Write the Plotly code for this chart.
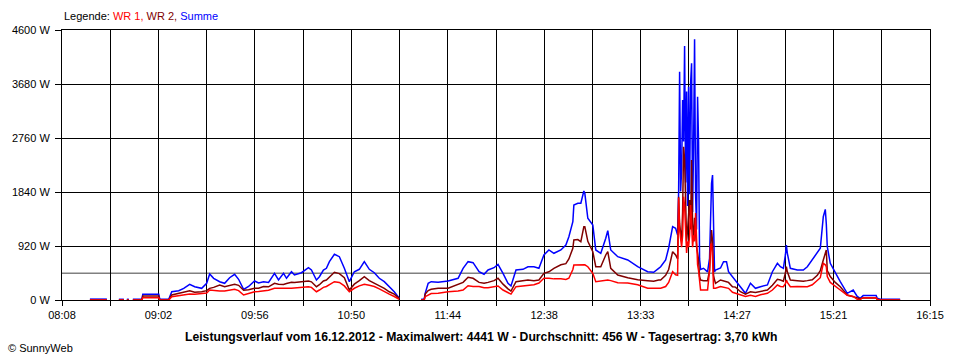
import plotly.graph_objects as go
import numpy as np

# ---------------- data ----------------
times = [
    "08:23:40", "08:33:11", "08:33:45", "08:39:55", "08:42:43", "08:43:15", "08:44:23", "08:45:30", "08:46:10",
    "08:47:45", "08:52:47", "08:53:20", "09:02:18", "09:02:52", "09:07:54", "09:09:35", "09:13:30", "09:16:18",
    "09:19:39", "09:22:27", "09:26:22", "09:29:10", "09:30:51", "09:33:05", "09:36:27", "09:39:15", "09:42:03",
    "09:44:51", "09:47:05", "09:49:53", "09:52:41", "09:56:02", "09:58:17", "10:01:05", "10:03:53", "10:07:14",
    "10:09:29", "10:12:17", "10:13:58", "10:16:45", "10:18:26", "10:22:21", "10:26:16", "10:27:57", "10:30:45",
    "10:32:26", "10:34:40", "10:36:21", "10:38:02", "10:40:50", "10:43:37", "10:46:25", "10:49:13", "10:52:01",
    "10:54:49", "10:57:37", "11:00:25", "11:03:13", "11:06:01", "11:08:49", "11:11:37", "11:14:25", "11:17:13",
    "11:17:47", "11:29:32", "11:31:13", "11:31:46", "11:33:27", "11:35:08", "11:39:02", "11:44:38", "11:50:14",
    "11:53:02", "11:55:50", "11:58:38", "12:02:00", "12:04:48", "12:07:02", "12:10:23", "12:12:38", "12:15:26",
    "12:18:14", "12:19:55", "12:22:43", "12:26:38", "12:29:26", "12:32:47", "12:35:35", "12:38:23", "12:41:11",
    "12:43:59", "12:47:54", "12:50:42", "12:52:23", "12:54:37", "12:55:11", "12:57:25", "12:59:06", "13:00:47",
    "13:01:20", "13:03:01", "13:05:49", "13:07:29", "13:10:17", "13:13:05", "13:14:13", "13:15:53", "13:19:49",
    "13:25:25", "13:31:00", "13:36:36", "13:39:58", "13:42:46", "13:43:53", "13:46:41", "13:48:22", "13:50:36",
    "13:52:17", "13:53:24", "13:53:58", "13:54:31", "13:55:05", "13:55:38", "13:56:12", "13:56:45", "13:57:19",
    "13:57:53", "13:58:26", "13:59:00", "13:59:33", "14:00:07", "14:00:41", "14:01:14", "14:01:48", "14:02:21",
    "14:02:55", "14:03:29", "14:04:02", "14:04:36", "14:05:09", "14:05:43", "14:06:17", "14:07:57", "14:10:12",
    "14:11:19", "14:11:53", "14:12:26", "14:13:00", "14:13:34", "14:14:07", "14:14:41", "14:17:28", "14:19:09",
    "14:20:50", "14:21:57", "14:24:11", "14:25:52", "14:28:40", "14:31:28", "14:34:16", "14:37:04", "14:39:52",
    "14:43:47", "14:46:35", "14:49:23", "14:51:04", "14:52:44", "14:53:52", "14:54:25", "14:54:58", "14:56:39",
    "15:00:34", "15:03:56", "15:06:10", "15:08:58", "15:11:46", "15:13:27", "15:15:08", "15:16:15", "15:16:49",
    "15:17:22", "15:19:03", "15:21:51", "15:24:39", "15:28:34", "15:31:55", "15:34:10", "15:35:50", "15:37:31",
    "15:44:48", "15:45:22", "15:47:02", "15:58:14",
]

summe = [
    15, 15, None, 12, 12, None, 12, 12, None,
    12, 12, 100, 100, 12, 12, 141, 158, 199,
    268, 227, 199, 285, 443, 370, 312, 285, 380,
    438, 353, 180, 230, 324, 290, 312, 300, 455,
    341, 455, 370, 482, 426, 465, 550, 511, 341,
    397, 511, 540, 653, 779, 738, 540, 312, 482,
    523, 653, 523, 465, 370, 312, 227, 141, 29,
    None, 12, 12, 114, 285, 312, 302, 324, 370,
    540, 653, 636, 482, 438, 511, 550, 608, 455,
    285, 239, 511, 523, 567, 567, 540, 767, 852,
    796, 852, 937, 1079, 1334, 1619, 1648, 1648, 1857,
    1818, 1392, 1278, 852, 796, 1051, 1181, 852, 738,
    682, 567, 482, 472, 540, 567, 682, 886, 1249,
    1222, 1108, 1850, 3890, 1850, 2200, 3408, 2700, 4328,
    2000, 3550, 1600, 3635, 1800, 3692, 4033, 1500, 2600,
    4441, 1800, 1200, 3464, 2697, 700, 520, 540, 480,
    711, 1400, 1990, 2130, 988, 480, 511, 545, 653,
    653, 482, 397, 341, 227, 114, 285, 199, 227,
    256, 482, 625, 567, 540, 767, 937, 796, 540,
    511, 511, 567, 682, 796, 881, 1419, 1545, 1300,
    908, 625, 455, 312, 114, 170, 60, 29, 75,
    75, 29, 12, 12,
]

wr2 = [
    0, 0, None, 0, 0, None, 0, 0, None,
    0, 0, 68, 68, 0, 0, 85, 110, 130,
    158, 131, 140, 160, 199, 215, 256, 227, 245,
    268, 250, 165, 175, 199, 200, 230, 225, 285,
    270, 265, 280, 302, 300, 315, 324, 310, 227,
    260, 324, 340, 390, 472, 450, 380, 170, 270,
    330, 397, 330, 285, 250, 199, 140, 100, 29,
    None, 0, 0, 100, 160, 182, 199, 199, 260,
    300, 387, 370, 300, 285, 300, 330, 370, 270,
    190, 150, 312, 330, 341, 330, 341, 455, 480,
    540, 600, 620, 700, 880, 1022, 1030, 993, 1249,
    1249, 1000, 823, 567, 567, 767, 823, 540, 426,
    380, 345, 330, 320, 341, 341, 420, 520, 823,
    767, 700, 1760, 1300, 1100, 1000, 1500, 2612, 2400,
    1300, 1000, 1200, 1400, 1704, 1200, 2385, 1300, 1000,
    1400, 1100, 900, 800, 682, 400, 340, 330, 330,
    500, 966, 1193, 1000, 420, 340, 285, 341, 320,
    312, 300, 227, 220, 141, 100, 141, 130, 150,
    170, 250, 353, 341, 320, 460, 567, 480, 341,
    330, 320, 330, 345, 420, 500, 682, 800, 852,
    500, 400, 300, 227, 85, 56, 29, 20, 35,
    35, 12, 0, 0,
]

wr1 = [
    0, 0, None, 0, 0, None, 0, 0, None,
    0, 0, 40, 40, 0, 0, 56, 75, 90,
    102, 100, 112, 120, 170, 160, 155, 153, 165,
    182, 160, 85, 110, 141, 145, 160, 165, 199,
    195, 199, 199, 199, 205, 215, 227, 215, 141,
    170, 215, 230, 260, 312, 300, 240, 141, 200,
    240, 268, 250, 230, 190, 141, 100, 60, 12,
    None, 0, 0, 56, 90, 110, 114, 140, 153,
    170, 244, 230, 230, 210, 210, 230, 239, 170,
    120, 100, 227, 240, 250, 260, 290, 370, 370,
    360, 360, 350, 370, 520, 596, 600, 600, 600,
    600, 567, 455, 312, 320, 340, 341, 330, 296,
    290, 260, 200, 200, 200, 199, 230, 300, 482,
    430, 420, 1740, 1200, 1000, 900, 1100, 1760, 1600,
    1200, 800, 1000, 900, 1100, 1619, 1300, 900, 1100,
    1000, 1482, 800, 600, 500, 300, 170, 170, 170,
    500, 937, 966, 700, 200, 200, 199, 230, 220,
    210, 199, 131, 114, 80, 60, 80, 60, 90,
    114, 170, 256, 230, 227, 280, 341, 300, 227,
    230, 227, 227, 260, 330, 380, 625, 600, 567,
    400, 300, 230, 170, 80, 60, 12, 10, 40,
    40, 12, 0, 0,
]

x_labels = ["08:08", "09:02", "09:56", "10:50", "11:44", "12:38", "13:33", "14:27", "15:21", "16:15"]
y_values = [0, 920, 1840, 2760, 3680, 4600]
y_labels = ["0 W", "920 W", "1840 W", "2760 W", "3680 W", "4600 W"]
average_w = 456
title_text = ("Leistungsverlauf vom 16.12.2012 - Maximalwert: 4441 W - "
              "Durchschnitt: 456 W - Tagesertrag: 3,70 kWh")


# ---------------- helpers ----------------
def to_min(s):
    parts = [int(p) for p in s.split(":")]
    while len(parts) < 3:
        parts.append(0)
    return parts[0] * 60 + parts[1] + parts[2] / 60.0


x_min = [to_min(t) for t in times]
t0, t1 = to_min(x_labels[0]), to_min(x_labels[-1])
grid_vals = list(np.linspace(t0, t1, 2 * (len(x_labels) - 1) + 1))
grid_text = []
for i in range(len(grid_vals)):
    grid_text.append(x_labels[i // 2] if i % 2 == 0 else "")

FONT = "Liberation Sans"

fig = go.Figure()
fig.add_trace(go.Scatter(x=x_min, y=summe, mode="lines", name="Summe",
                         line=dict(color="#0000FF", width=1.5), connectgaps=False))
fig.add_trace(go.Scatter(x=x_min, y=wr2, mode="lines", name="WR 2",
                         line=dict(color="#800000", width=1.5), connectgaps=False))
fig.add_trace(go.Scatter(x=x_min, y=wr1, mode="lines", name="WR 1",
                         line=dict(color="#FF0000", width=1.5), connectgaps=False))

fig.add_shape(type="line", xref="paper", x0=0, x1=1, yref="y", y0=average_w, y1=average_w,
              line=dict(color="#808080", width=1.5), layer="below")

fig.update_layout(
    width=960, height=360, autosize=False,
    margin=dict(l=60, r=30, t=30, b=60),
    paper_bgcolor="white", plot_bgcolor="white",
    showlegend=False,
    font=dict(family=FONT, size=11, color="black"),
    xaxis=dict(range=[t0, t1], tickmode="array", tickvals=grid_vals, ticktext=grid_text,
               showgrid=True, gridcolor="black", gridwidth=1,
               showline=True, linecolor="black", linewidth=1, mirror=True,
               ticks="outside", ticklen=5, tickcolor="black", zeroline=False,
               tickfont=dict(family=FONT, size=11, color="black")),
    yaxis=dict(range=[0, 4600], tickmode="array", tickvals=y_values, ticktext=y_labels,
               showgrid=True, gridcolor="black", gridwidth=1,
               showline=True, linecolor="black", linewidth=1, mirror=True,
               ticks="outside", ticklen=6, tickcolor="black", zeroline=False,
               ticklabelstandoff=3,
               tickfont=dict(family=FONT, size=11, color="black")),
)

legend_html = ('Legende: <span style="color:#FF0000">WR 1,</span> '
               '<span style="color:#800000">WR 2,</span> '
               '<span style="color:#0000FF">Summe</span>')
fig.add_annotation(text=legend_html, xref="paper", yref="paper", x=0, y=1 + 14 / 270,
                   xanchor="left", yanchor="middle", showarrow=False,
                   font=dict(family=FONT, size=11, color="black"))
fig.add_annotation(text="<b>" + title_text + "</b>", xref="paper", yref="paper",
                   x=(480 - 60) / 870, y=-37 / 270, xanchor="center", yanchor="middle",
                   showarrow=False, font=dict(family=FONT, size=12.2, color="black"))
fig.add_annotation(text="© SunnyWeb", xref="paper", yref="paper",
                   x=-56 / 870, y=-48 / 270, xanchor="left", yanchor="middle",
                   showarrow=False, font=dict(family=FONT, size=11, color="black"))

fig.write_html("out.html", config={"displayModeBar": False},
               post_script="document.body.style.margin='0px';")
